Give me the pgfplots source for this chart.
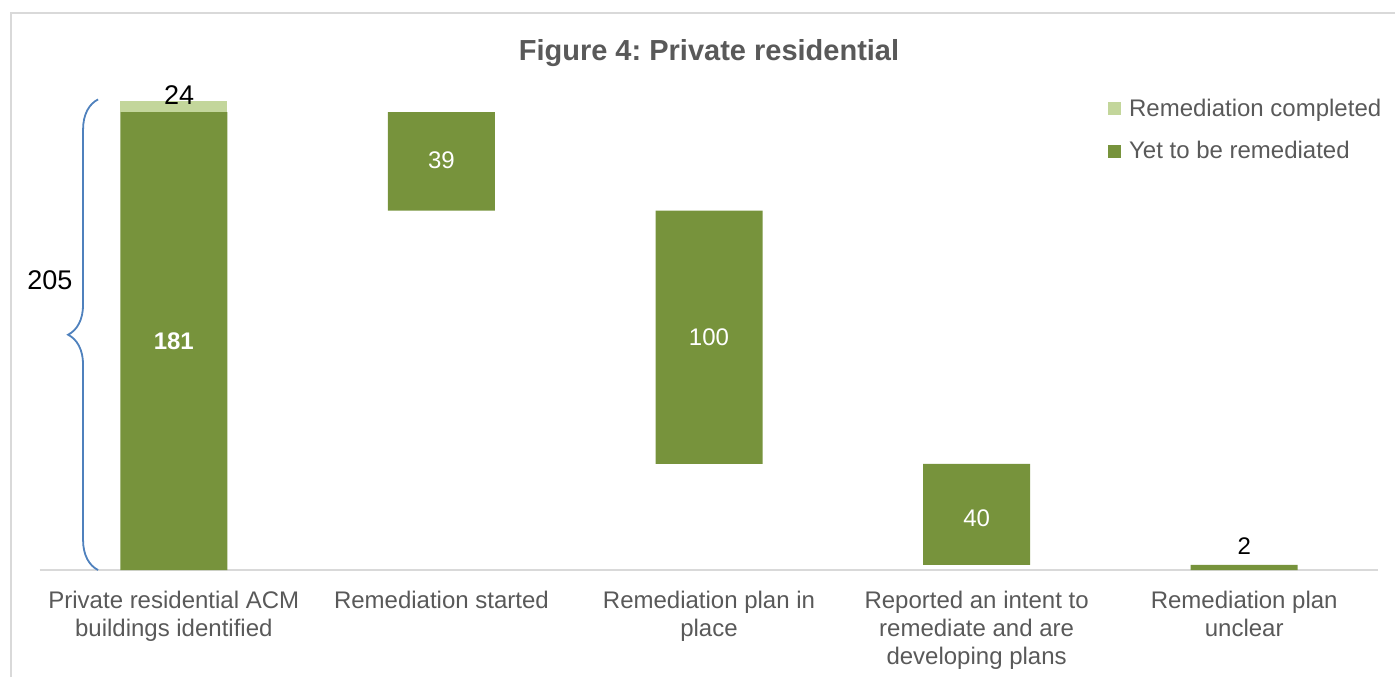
\documentclass[border=0pt]{standalone}
\usepackage{pgfplots}
\pgfplotsset{compat=1.18}
\usepackage{fontspec}
\setmainfont{Liberation Sans}
\usetikzlibrary{decorations.pathreplacing}
\definecolor{dkgreen}{HTML}{77933C}
\definecolor{ltgreen}{HTML}{C3D69B}
\definecolor{txtgray}{HTML}{595959}
\definecolor{framegray}{HTML}{D9D9D9}
\definecolor{braceblue}{HTML}{4F81BD}
\frenchspacing

\pgfplotsset{
  wf/.style={
    scale only axis, width=669pt, height=265.65pt,
    xmin=-0.5, xmax=4.5, ymin=0, ymax=210,
    clip=false,
    at={(20pt,53.5pt)}, anchor=south west,
  },
  lbl/.style={only marks, mark=*, mark size=0pt, mark options={draw=none,fill=none},
    nodes near coords, point meta=explicit symbolic,
    every node near coord/.append style={anchor=center, font=\fontsize{12}{14}\selectfont}},
}

\begin{document}
\begin{tikzpicture}
\useasboundingbox (0,0) rectangle (697.5pt,338.5pt);
\draw[framegray, line width=0.75pt] (5.5pt,0) -- (5.5pt,332pt) -- (697.5pt,332pt);
\node[font=\bfseries\fontsize{14.5}{17}\selectfont, text=txtgray] at (354.5pt,312pt) {Figure 4: Private residential};

\begin{axis}[wf,
  ybar stacked, bar width=53.5pt,
  axis x line*=bottom, axis y line=none,
  x axis line style={-, draw=framegray, line width=0.75pt},
  xtick={0,...,4}, major tick length=0,
  xticklabels={{Private residential ACM\\buildings identified},
    {Remediation started},
    {Remediation plan in\\place},
    {Reported an intent to\\remediate and are\\developing plans},
    {Remediation plan\\unclear}},
  xticklabel style={align=center, text=txtgray, font=\fontsize{12}{14}\selectfont, anchor=north, yshift=-7pt},
  legend style={at={(0.7935,0.903)}, anchor=north west, draw=none, fill=none,
    font=\fontsize{12}{14}\selectfont, text=txtgray, row sep=7pt, cells={anchor=west}},
  legend image code/.code={\fill[#1] (0pt,-3.25pt) rectangle (6.5pt,3.25pt); \path (8.5pt,0pt);},
  reverse legend=true,
]
% invisible base of the waterfall
\addplot[draw=none, fill=none, forget plot] coordinates {(0,0) (1,142) (2,42) (3,2) (4,0)};
\addplot[draw=none, fill=dkgreen] coordinates {(0,181) (1,39) (2,100) (3,40) (4,2)};
\addplot[draw=none, fill=ltgreen] coordinates {(0,4.5) (1,0) (2,0) (3,0) (4,0)};
\legend{Yet to be remediated, Remediation completed}

\draw[braceblue, line width=0.9pt, decorate, decoration={brace, amplitude=15pt}]
  (axis cs:-0.283,0) -- (axis cs:-0.283,186);
\node[font=\fontsize{13.5}{16}\selectfont] at (axis cs:-0.463,114.6) {205};
\end{axis}

\begin{axis}[wf, hide axis]
\addplot[lbl, every node near coord/.append style={text=white, font=\bfseries\fontsize{12}{14}\selectfont}]
  coordinates {(0,90.5)[181]};
\addplot[lbl, every node near coord/.append style={text=white}]
  coordinates {(1,162)[39] (2,92)[100] (3,20.5)[40]};
\addplot[lbl, every node near coord/.append style={text=black, font=\fontsize{13.5}{16}\selectfont}]
  coordinates {(0.02,187.7)[24]};
\addplot[lbl, every node near coord/.append style={text=black}]
  coordinates {(4,9.5)[2]};
\end{axis}
\end{tikzpicture}
\end{document}
